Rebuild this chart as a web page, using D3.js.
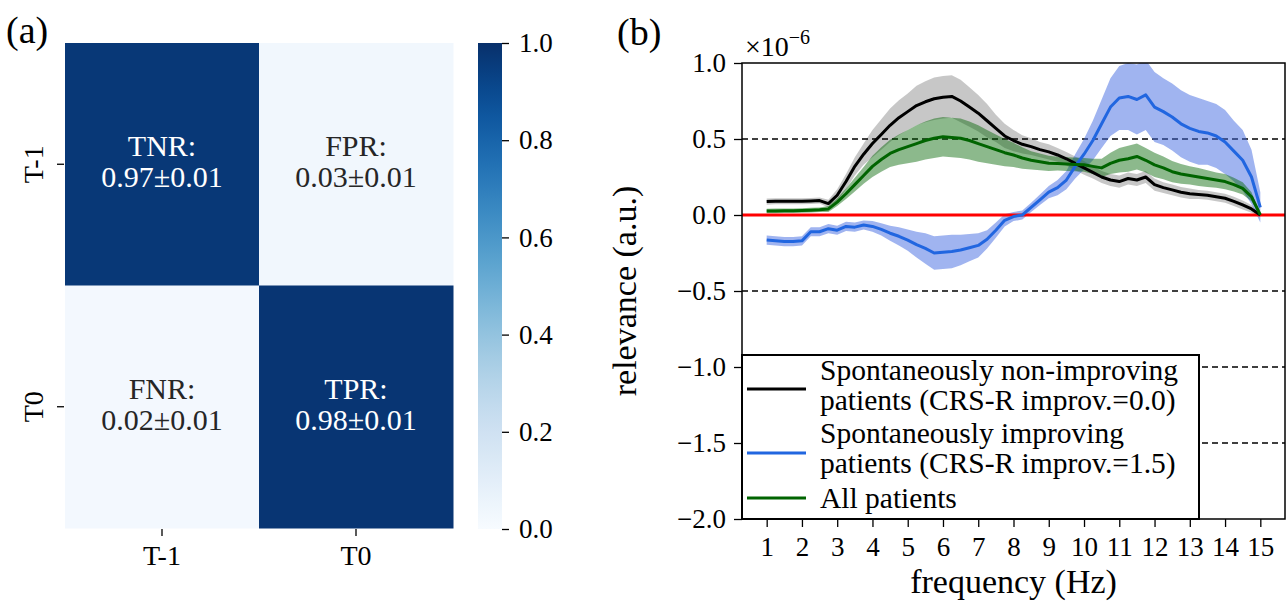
<!DOCTYPE html>
<html>
<head>
<meta charset="utf-8">
<script src="https://cdn.jsdelivr.net/npm/d3@7"></script>
<style>
  body { margin: 0; background: #fff; }
  svg text { font-family: "Liberation Serif", "DejaVu Serif", serif; fill: #000; }
  .axis path.domain { display: none; }
  .axis line { stroke: #000; stroke-width: 1.3; }
</style>
</head>
<body>
<svg id="chart" width="1287" height="603"></svg>
<script>
// ---- panel (a): confusion matrix ----
const classes = ["T-1", "T0"];
const rateNames = [["TNR", "FPR"], ["FNR", "TPR"]];
const rates = [[0.97, 0.03], [0.02, 0.98]];
const rateErr = [[0.01, 0.01], [0.01, 0.01]];
const cbarTicks = [0, 0.2, 0.4, 0.6, 0.8, 1.0];

// ---- panel (b): relevance vs frequency ----
const freqs = d3.range(1, 15.001, 0.25);
const nonImpMean = [0.088,0.09,0.09,0.09,0.09,0.092,0.095,0.075,
  0.13,0.22,0.32,0.40,0.47,0.53,0.59,0.64,
  0.68,0.72,0.745,0.765,0.775,0.78,0.75,0.71,
  0.67,0.62,0.57,0.52,0.49,0.465,0.45,0.43,
  0.415,0.395,0.37,0.34,0.31,0.28,0.25,0.23,
  0.22,0.24,0.23,0.25,0.20,0.18,0.165,0.15,
  0.14,0.135,0.13,0.12,0.11,0.09,0.066,0.04,
  0.0];
const nonImpStd = [0.02,0.02,0.02,0.02,0.02,0.02,0.02,0.025,
  0.04,0.05,0.06,0.07,0.09,0.10,0.11,0.115,
  0.12,0.13,0.135,0.14,0.14,0.14,0.14,0.13,
  0.12,0.11,0.09,0.08,0.07,0.06,0.055,0.05,
  0.05,0.045,0.045,0.045,0.045,0.04,0.04,0.04,
  0.04,0.04,0.04,0.04,0.04,0.035,0.035,0.035,
  0.035,0.03,0.03,0.03,0.03,0.03,0.03,0.025,
  0.01];
const impMean = [-0.165,-0.17,-0.175,-0.175,-0.17,-0.11,-0.11,-0.09,
  -0.10,-0.075,-0.08,-0.066,-0.075,-0.095,-0.12,-0.14,
  -0.165,-0.195,-0.22,-0.25,-0.245,-0.24,-0.23,-0.215,
  -0.20,-0.16,-0.10,-0.035,-0.01,0.0,0.05,0.10,
  0.15,0.18,0.23,0.32,0.40,0.49,0.60,0.71,
  0.77,0.78,0.76,0.79,0.71,0.68,0.645,0.60,
  0.57,0.55,0.54,0.52,0.48,0.42,0.36,0.25,
  0.05];
const impStd = [0.03,0.03,0.03,0.03,0.03,0.03,0.03,0.03,
  0.03,0.03,0.03,0.03,0.035,0.04,0.05,0.06,
  0.07,0.085,0.10,0.11,0.11,0.11,0.10,0.09,
  0.08,0.06,0.05,0.04,0.03,0.03,0.03,0.035,
  0.04,0.05,0.06,0.08,0.10,0.13,0.16,0.19,
  0.21,0.22,0.23,0.23,0.23,0.22,0.22,0.22,
  0.22,0.22,0.21,0.21,0.21,0.20,0.20,0.18,
  0.10];
const allMean = [0.026,0.027,0.028,0.028,0.03,0.032,0.035,0.04,
  0.085,0.14,0.20,0.26,0.32,0.365,0.405,0.43,
  0.45,0.47,0.49,0.505,0.515,0.51,0.505,0.49,
  0.47,0.45,0.43,0.41,0.395,0.375,0.36,0.35,
  0.34,0.338,0.335,0.333,0.33,0.32,0.31,0.34,
  0.36,0.37,0.385,0.36,0.33,0.31,0.285,0.27,
  0.26,0.25,0.24,0.23,0.22,0.20,0.175,0.12,
  0.0];
const allStd = [0.015,0.015,0.015,0.015,0.015,0.015,0.015,0.02,
  0.025,0.035,0.045,0.055,0.07,0.08,0.09,0.10,
  0.11,0.12,0.125,0.13,0.13,0.13,0.13,0.125,
  0.12,0.11,0.10,0.09,0.08,0.07,0.06,0.055,
  0.05,0.045,0.045,0.045,0.045,0.05,0.06,0.07,
  0.08,0.085,0.085,0.08,0.08,0.075,0.07,0.065,
  0.06,0.06,0.055,0.05,0.05,0.045,0.04,0.03,
  0.01];
const xTicks = d3.range(1, 16);
const yTicks = [-2, -1.5, -1, -0.5, 0, 0.5, 1];
const dashedLevels = [0.5, -0.5, -1.0, -1.5];
const seriesLabels = [
  ["Spontaneously non-improving", "patients (CRS-R improv.=0.0)"],
  ["Spontaneously improving", "patients (CRS-R improv.=1.5)"],
  ["All patients"]
];

const svg = d3.select("#chart");

// ================= (a) =================
const hm = { left: 65, right: 453, top: 43, bottom: 528 };
const xb = d3.scaleBand().domain(classes).range([hm.left, hm.right]);
const yb = d3.scaleBand().domain(classes).range([hm.top, hm.bottom]);
const blues = d3.scaleSequential(d3.interpolateBlues).domain([0, 1]);

const cells = [];
rates.forEach((row, i) => row.forEach((v, j) =>
  cells.push({ r: classes[i], c: classes[j], v, name: rateNames[i][j], err: rateErr[i][j] })));

const ga = svg.append("g");
ga.selectAll("rect.cell").data(cells).enter().append("rect")
  .attr("class", "cell")
  .attr("x", d => xb(d.c)).attr("y", d => yb(d.r))
  .attr("width", xb.bandwidth() + 0.5).attr("height", yb.bandwidth() + 0.5)
  .attr("fill", d => blues(d.v));

const annot = ga.selectAll("g.annot").data(cells).enter().append("g")
  .attr("transform", d => `translate(${xb(d.c) + xb.bandwidth() / 2},${yb(d.r) + yb.bandwidth() / 2})`)
  .attr("font-size", 30).attr("text-anchor", "middle");
annot.append("text").attr("y", -8).text(d => d.name + ":")
  .style("fill", d => d.v > 0.5 ? "#fff" : "#262626");
annot.append("text").attr("y", 23).text(d => d.v.toFixed(2) + "\u00b1" + d.err.toFixed(2))
  .style("fill", d => d.v > 0.5 ? "#fff" : "#262626");

ga.append("g").attr("class", "axis")
  .attr("transform", `translate(${hm.left - 1},0)`)
  .call(d3.axisLeft(yb).tickSize(7))
  .selectAll("text")
  .attr("font-size", 28).attr("x", 0).attr("y", 0).attr("dy", "0.35em")
  .attr("text-anchor", "middle")
  .attr("transform", "translate(-31,0) rotate(-90)");

ga.append("g").attr("class", "axis")
  .attr("transform", `translate(0,${hm.bottom + 1})`)
  .call(d3.axisBottom(xb).tickSize(7).tickPadding(9))
  .selectAll("text").attr("font-size", 28);

// colorbar
const cb = { x: 478, w: 24 };
const cy = d3.scaleLinear().domain([0, 1]).range([hm.bottom + 1, hm.top]);
const grad = svg.append("defs").append("linearGradient")
  .attr("id", "cbgrad").attr("x1", 0).attr("y1", 1).attr("x2", 0).attr("y2", 0);
d3.range(0, 1.0001, 0.05).forEach(t =>
  grad.append("stop").attr("offset", t).attr("stop-color", blues(t)));
ga.append("rect").attr("x", cb.x).attr("y", cy(1))
  .attr("width", cb.w).attr("height", cy(0) - cy(1))
  .attr("fill", "url(#cbgrad)");
ga.append("g").attr("class", "axis")
  .attr("transform", `translate(${cb.x + cb.w},0)`)
  .call(d3.axisRight(cy).tickValues(cbarTicks).tickFormat(d3.format(".1f")).tickSize(7).tickPadding(10))
  .selectAll("text").attr("font-size", 27);

svg.append("text").attr("x", 6).attr("y", 43).attr("font-size", 38).text("(a)");

// ================= (b) =================
const pb = { left: 742, right: 1285, top: 63, bottom: 519 };
const x = d3.scaleLinear().domain([0.3, 15.7]).range([pb.left, pb.right]);
const y = d3.scaleLinear().domain([-2, 1]).range([pb.bottom, pb.top]);

const gb = svg.append("g");
gb.append("clipPath").attr("id", "plotclip").append("rect")
  .attr("x", pb.left).attr("y", pb.top)
  .attr("width", pb.right - pb.left).attr("height", pb.bottom - pb.top);

gb.selectAll("line.hl").data(dashedLevels).enter().append("line")
  .attr("x1", pb.left).attr("x2", pb.right)
  .attr("y1", d => y(d)).attr("y2", d => y(d))
  .attr("stroke", "#000").attr("stroke-width", 1.5).attr("stroke-dasharray", "6,4");

const series = [
  { mean: nonImpMean, std: nonImpStd, line: "#000000", band: "#000000", op: 0.22 },
  { mean: impMean, std: impStd, line: "#2166e0", band: "#4169e1", op: 0.5 },
  { mean: allMean, std: allStd, line: "#006400", band: "#006400", op: 0.45 }
];

const plot = gb.append("g").attr("clip-path", "url(#plotclip)");
const area = d3.area().x((d, i) => x(freqs[i]))
  .y0(d => y(d[0] - d[1])).y1(d => y(d[0] + d[1]));
const line = d3.line().x((d, i) => x(freqs[i])).y(d => y(d));

series.forEach(s => {
  plot.append("path").datum(s.mean.map((m, i) => [m, s.std[i]]))
    .attr("d", area).attr("fill", s.band).attr("fill-opacity", s.op);
});
plot.append("line").attr("x1", pb.left).attr("x2", pb.right)
  .attr("y1", y(0)).attr("y2", y(0))
  .attr("stroke", "#ff0000").attr("stroke-width", 3);
series.forEach(s => {
  plot.append("path").datum(s.mean).attr("d", line)
    .attr("fill", "none").attr("stroke", s.line).attr("stroke-width", 3)
    .attr("stroke-linejoin", "round");
});

gb.append("g").attr("class", "axis")
  .attr("transform", `translate(${pb.left},0)`)
  .call(d3.axisLeft(y).tickValues(yTicks).tickFormat(d3.format(".1f")).tickSize(8).tickPadding(8))
  .selectAll("text").attr("font-size", 27);
gb.append("g").attr("class", "axis")
  .attr("transform", `translate(0,${pb.bottom})`)
  .call(d3.axisBottom(x).tickValues(xTicks).tickFormat(d3.format("d")).tickSize(8).tickPadding(10))
  .selectAll("text").attr("font-size", 27);

// legend
const lg = gb.append("g");
lg.append("rect").attr("x", pb.left).attr("y", 355)
  .attr("width", 1199 - pb.left).attr("height", pb.bottom - 355)
  .attr("fill", "#fff").attr("stroke", "#000").attr("stroke-width", 2);
const legendLineY = [389, 453, 498];
const legendTextY = [[380, 410], [443, 473], [508]];
series.forEach((s, i) => {
  lg.append("line").attr("x1", 747).attr("x2", 806)
    .attr("y1", legendLineY[i]).attr("y2", legendLineY[i])
    .attr("stroke", s.line).attr("stroke-width", 3);
  seriesLabels[i].forEach((t, k) =>
    lg.append("text").attr("x", 820).attr("y", legendTextY[i][k]).attr("font-size", 29.5).text(t));
});

gb.append("rect").attr("x", pb.left).attr("y", pb.top)
  .attr("width", pb.right - pb.left).attr("height", pb.bottom - pb.top)
  .attr("fill", "none").attr("stroke", "#000").attr("stroke-width", 1.5);

const expo = gb.append("text").attr("x", 745).attr("y", 56).attr("font-size", 28);
expo.append("tspan").text("\u00d710");
expo.append("tspan").attr("dy", -12).attr("font-size", 20).text("\u22126");

gb.append("text").attr("transform", `translate(636,${(pb.top + pb.bottom) / 2}) rotate(-90)`)
  .attr("text-anchor", "middle").attr("font-size", 34).text("relevance (a.u.)");
gb.append("text").attr("x", (pb.left + pb.right) / 2).attr("y", 593)
  .attr("text-anchor", "middle").attr("font-size", 34).text("frequency (Hz)");

svg.append("text").attr("x", 617).attr("y", 45).attr("font-size", 38).text("(b)");
</script>
</body>
</html>
